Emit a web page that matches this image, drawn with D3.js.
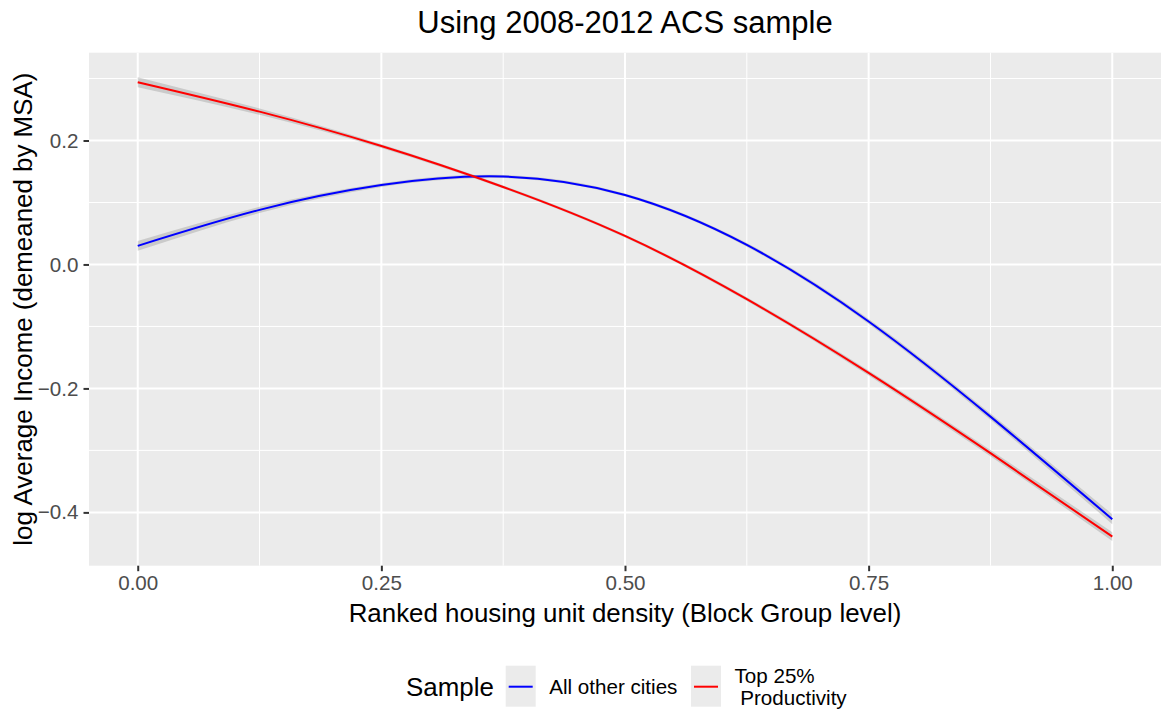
<!DOCTYPE html>
<html>
<head>
<meta charset="utf-8">
<script src="https://cdn.jsdelivr.net/npm/d3@7"></script>
<style>
  html, body { margin: 0; padding: 0; background: #ffffff; }
  svg { display: block; font-family: "Liberation Sans", Arial, sans-serif; }
</style>
</head>
<body>
<svg id="chart" width="1161" height="712"></svg>
<script>
// Fitted log average income (demeaned by MSA) along ranked housing density
const density = [0, 0.125, 0.25, 0.375, 0.5, 0.625, 0.75, 0.875, 1.0];
const otherCities = [0.030, 0.088, 0.128, 0.1418, 0.112, 0.0315, -0.092, -0.2455, -0.411];
const otherCitiesSE = [0.008, 0.005, 0.003, 0.0025, 0.0025, 0.003, 0.004, 0.005, 0.008];
const topProductivity = [0.294, 0.2465, 0.191, 0.125, 0.046, -0.056, -0.175, -0.3045, -0.439];
const topProductivitySE = [0.008, 0.005, 0.003, 0.0025, 0.0025, 0.003, 0.004, 0.005, 0.007];

const seriesNames = ["All other cities", "Top 25%\n Productivity"];
const seriesColors = ["#0000FF", "#FF0000"];
const xTicks = [0, 0.25, 0.5, 0.75, 1.0];
const xMinor = [0.125, 0.375, 0.625, 0.875];
const yTicks = [-0.4, -0.2, 0.0, 0.2];
const yMinor = [-0.3, -0.1, 0.1, 0.3];

const svg = d3.select("#chart");
const panel = { left: 89, right: 1161, top: 52.7, bottom: 565.7 };

const x = d3.scaleLinear().domain([-0.05, 1.05]).range([panel.left, panel.right]);
const y = d3.scaleLinear().domain([-0.486, 0.3416]).range([panel.bottom, panel.top]);

// panel background
svg.append("rect")
  .attr("x", panel.left).attr("y", panel.top)
  .attr("width", panel.right - panel.left).attr("height", panel.bottom - panel.top)
  .attr("fill", "#EBEBEB");

const grid = svg.append("g");
// minor grid
grid.selectAll(".vminor").data(xMinor).join("line")
  .attr("x1", d => x(d)).attr("x2", d => x(d))
  .attr("y1", panel.top).attr("y2", panel.bottom)
  .attr("stroke", "#fff").attr("stroke-width", 1);
grid.selectAll(".hminor").data(yMinor).join("line")
  .attr("y1", d => y(d)).attr("y2", d => y(d))
  .attr("x1", panel.left).attr("x2", panel.right)
  .attr("stroke", "#fff").attr("stroke-width", 1);
// major grid
grid.selectAll(".vmajor").data(xTicks).join("line")
  .attr("x1", d => x(d)).attr("x2", d => x(d))
  .attr("y1", panel.top).attr("y2", panel.bottom)
  .attr("stroke", "#fff").attr("stroke-width", 2);
grid.selectAll(".hmajor").data(yTicks).join("line")
  .attr("y1", d => y(d)).attr("y2", d => y(d))
  .attr("x1", panel.left).attr("x2", panel.right)
  .attr("stroke", "#fff").attr("stroke-width", 2);

// series
const series = [
  { name: seriesNames[0], color: seriesColors[0], values: otherCities, se: otherCitiesSE },
  { name: seriesNames[1], color: seriesColors[1], values: topProductivity, se: topProductivitySE }
];

const area = d3.area()
  .x(d => x(d.x)).y0(d => y(d.v - d.s)).y1(d => y(d.v + d.s))
  .curve(d3.curveNatural);
const line = d3.line()
  .x(d => x(d.x)).y(d => y(d.v))
  .curve(d3.curveNatural);

const plotG = svg.append("g");
series.forEach(s => {
  const pts = density.map((d, i) => ({ x: d, v: s.values[i], s: s.se[i] }));
  plotG.append("path").datum(pts).attr("d", area)
    .attr("fill", "#999999").attr("fill-opacity", 0.4);
});
series.forEach(s => {
  const pts = density.map((d, i) => ({ x: d, v: s.values[i], s: s.se[i] }));
  plotG.append("path").datum(pts).attr("d", line)
    .attr("fill", "none").attr("stroke", s.color).attr("stroke-width", 2);
});

// axes
const xAxis = svg.append("g").attr("transform", `translate(0,${panel.bottom})`)
  .call(d3.axisBottom(x).tickValues(xTicks).tickFormat(d3.format(".2f")).tickSize(5.5).tickPadding(4));
xAxis.select(".domain").remove();
xAxis.selectAll("line").attr("stroke", "#333333").attr("stroke-width", 2);
xAxis.selectAll("text").attr("fill", "#4D4D4D").style("font-size", "20.6px")
  .style("font-family", "Liberation Sans, Arial, sans-serif");

const yAxis = svg.append("g").attr("transform", `translate(${panel.left},0)`)
  .call(d3.axisLeft(y).tickValues(yTicks).tickFormat(d => d === 0 ? "0.0" : d3.format(".1f")(d)).tickSize(5.5).tickPadding(5));
yAxis.select(".domain").remove();
yAxis.selectAll("line").attr("stroke", "#333333").attr("stroke-width", 2);
yAxis.selectAll("text").attr("fill", "#4D4D4D").style("font-size", "20.6px")
  .style("font-family", "Liberation Sans, Arial, sans-serif");

// titles
svg.append("text")
  .attr("x", (panel.left + panel.right) / 2).attr("y", 33)
  .attr("text-anchor", "middle").attr("fill", "#000")
  .style("font-size", "31px")
  .text("Using 2008-2012 ACS sample");

svg.append("text")
  .attr("x", (panel.left + panel.right) / 2).attr("y", 622)
  .attr("text-anchor", "middle").attr("fill", "#000")
  .style("font-size", "25.9px")
  .text("Ranked housing unit density (Block Group level)");

svg.append("text")
  .attr("transform", `translate(32,${(panel.top + panel.bottom) / 2}) rotate(-90)`)
  .attr("text-anchor", "middle").attr("fill", "#000")
  .style("font-size", "25.9px")
  .text("log Average Income (demeaned by MSA)");

// legend
const legend = svg.append("g");
const legendMid = 686.7;
legend.append("text")
  .attr("x", 406).attr("y", legendMid).attr("dy", "0.35em")
  .attr("fill", "#000").style("font-size", "25.9px").text("Sample");

const keyX = [505.7, 691];
series.forEach((s, i) => {
  legend.append("rect")
    .attr("x", keyX[i]).attr("y", 665.7).attr("width", 30).attr("height", 41)
    .attr("fill", "#EBEBEB");
  legend.append("line")
    .attr("x1", keyX[i] + 3).attr("x2", keyX[i] + 27)
    .attr("y1", legendMid).attr("y2", legendMid)
    .attr("stroke", s.color).attr("stroke-width", 2);
  const lines = s.name.split("\n");
  const t = legend.append("text")
    .attr("x", keyX[i] + 43.5).attr("fill", "#000")
    .style("font-size", "20.6px").attr("xml:space", "preserve")
    .style("white-space", "pre");
  const lh = 21.7;
  const startY = legendMid - (lines.length - 1) * lh / 2;
  lines.forEach((l, j) => {
    t.append("tspan").attr("x", keyX[i] + 43.5)
      .attr("y", startY + j * lh).attr("dy", "0.35em").text(l);
  });
});
</script>
</body>
</html>
